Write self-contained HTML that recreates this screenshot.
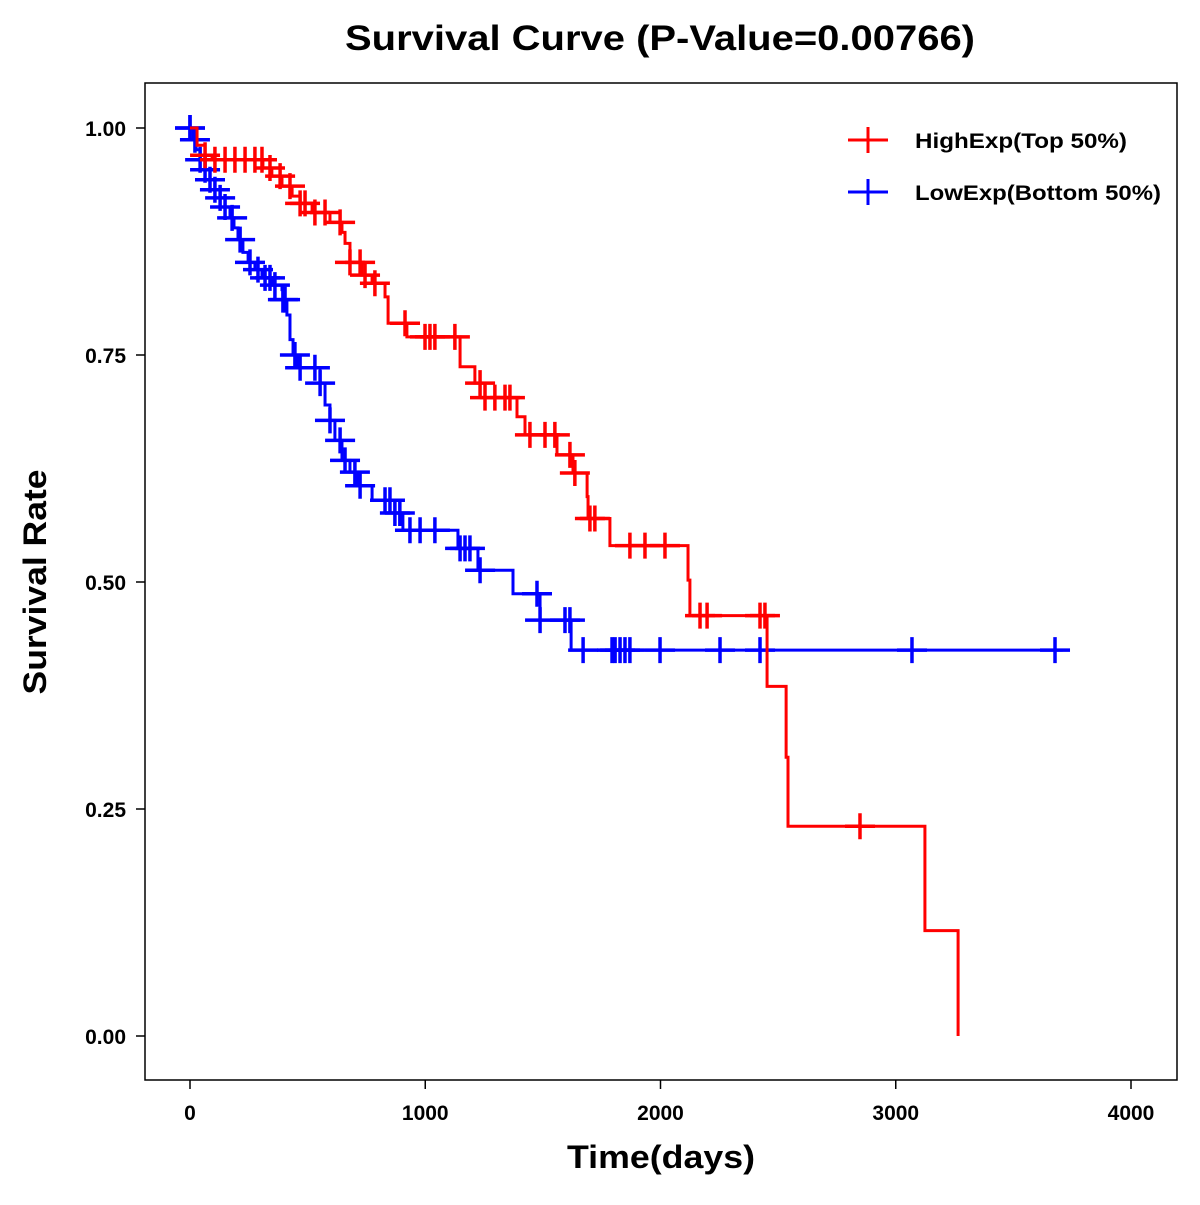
<!DOCTYPE html>
<html><head><meta charset="utf-8"><style>
body{margin:0;background:#fff}
svg text{font-family:"Liberation Sans",Arial,sans-serif;font-weight:bold}
</style></head><body>
<svg id="chart" width="1200" height="1200" viewBox="0 0 1200 1200" xmlns="http://www.w3.org/2000/svg">
<rect width="1200" height="1200" fill="#fff"/>
<text x="660" y="50" font-size="35" text-anchor="middle" textLength="630" lengthAdjust="spacingAndGlyphs">Survival Curve (P-Value=0.00766)</text>
<rect x="145" y="83" width="1032" height="997" fill="none" stroke="#000" stroke-width="1.5"/>
<g id="axes"></g>
<g id="series"></g>
<text x="661" y="1168" font-size="32" text-anchor="middle" textLength="188" lengthAdjust="spacingAndGlyphs">Time(days)</text>
<text transform="translate(46,582) rotate(-90)" font-size="32" text-anchor="middle" textLength="225" lengthAdjust="spacingAndGlyphs">Survival Rate</text>
<g>
<g>
<line x1="848" y1="140" x2="888" y2="140" stroke="#f00" stroke-width="3"/><line x1="868" y1="127" x2="868" y2="153" stroke="#f00" stroke-width="3"/>
<text x="915" y="148" font-size="21" textLength="212" lengthAdjust="spacingAndGlyphs">HighExp(Top 50%)</text></g>
<g>
<line x1="848" y1="192" x2="888" y2="192" stroke="#00f" stroke-width="3"/><line x1="868" y1="179" x2="868" y2="205" stroke="#00f" stroke-width="3"/>
<text x="915" y="200" font-size="21" textLength="246" lengthAdjust="spacingAndGlyphs">LowExp(Bottom 50%)</text></g>
</g>
</svg>
<script>
const xTicks=[0,1000,2000,3000,4000];
const yTicks=[0,0.25,0.5,0.75,1.0];
const yTickLabels=["0.00","0.25","0.50","0.75","1.00"];
const highTimes=[0,30,64,94,310,348,391,434,468,519,595,646,659,680,731,774,829,842,922,1148,1211,1254,1390,1424,1560,1628,1688,1692,1785,2117,2125,2453,2534,2542,3124,3265];
const highSurv=[1,0.981,0.970,0.965,0.956,0.947,0.936,0.925,0.917,0.907,0.896,0.885,0.873,0.852,0.838,0.829,0.814,0.785,0.770,0.737,0.719,0.703,0.682,0.662,0.640,0.620,0.594,0.570,0.540,0.502,0.463,0.385,0.307,0.231,0.116,0];
const highCensor=[64,106,149,191,234,276,306,340,383,425,468,489,531,574,638,680,723,744,786,914,999,1020,1041,1126,1233,1254,1296,1339,1360,1445,1509,1551,1615,1636,1700,1721,1870,1934,2019,2168,2198,2423,2444,2848];
const lowTimes=[0,13,26,43,64,85,106,128,149,170,187,204,225,247,276,306,349,391,395,412,425,438,455,553,574,595,616,646,680,710,774,871,905,1139,1224,1373,1488,1620];
const lowSurv=[1,0.987,0.976,0.965,0.954,0.943,0.932,0.923,0.913,0.901,0.890,0.877,0.863,0.852,0.844,0.835,0.827,0.822,0.811,0.794,0.767,0.750,0.736,0.719,0.695,0.678,0.656,0.634,0.621,0.606,0.590,0.576,0.557,0.537,0.513,0.487,0.458,0.425];
const lowCensor=[0,0,21,43,64,85,106,128,149,179,213,255,289,319,340,361,395,404,446,468,531,553,595,638,659,701,723,829,850,871,892,935,978,1041,1148,1169,1190,1233,1475,1488,1594,1615,1671,1794,1807,1828,1849,1870,1998,2253,2423,3069,3677];
const lowEnd=3710, highEnd=3265;

const NS="http://www.w3.org/2000/svg";
const X=t=>190+t*0.23525;
const Y=s=>1036-s*908;
function mk(tag,attrs,parent){const e=document.createElementNS(NS,tag);for(const k in attrs)e.setAttribute(k,attrs[k]);parent.appendChild(e);return e;}
const axes=document.getElementById('axes');
xTicks.forEach(t=>{
  const l=mk('line',{x1:X(t),x2:X(t),y1:1080,y2:1089,stroke:'#000','stroke-width':1.5},axes);
  
  
  const tx=mk('text',{x:X(t),y:1120,'font-size':21,'text-anchor':'middle'},axes);
  tx.textContent=t;
  
  
});
yTicks.forEach((s,i)=>{
  const l=mk('line',{x1:136,x2:145,y1:Y(s),y2:Y(s),stroke:'#000','stroke-width':1.5},axes);
  
  
  const tx=mk('text',{x:126,y:Y(s)+8,'font-size':21,'text-anchor':'end'},axes);
  tx.textContent=yTickLabels[i];
  
  
});
const g=document.getElementById('series');
function survAt(times,surv,t){let s=surv[0];for(let i=0;i<times.length;i++){if(times[i]<=t)s=surv[i];}return s;}
function draw(times,surv,censor,end,color,name){
  let d='M'+X(times[0])+','+Y(surv[0]);
  for(let i=1;i<times.length;i++){d+=' H'+X(times[i])+' V'+Y(surv[i]);}
  if(end>times[times.length-1])d+=' H'+X(end);
  const p=mk('path',{d:d,fill:'none',stroke:color,'stroke-width':3},g);
  
  
  censor.forEach(t=>{
    const cx=X(t),cy=Y(survAt(times,surv,t));
    const c=mk('path',{d:'M'+(cx-15)+','+cy+' H'+(cx+15)+' M'+cx+','+(cy-13)+' V'+(cy+13),stroke:color,'stroke-width':3.5,fill:'none'},g);
    
    
  });
}
draw(lowTimes,lowSurv,lowCensor,lowEnd,'#00f','low-exp');
draw(highTimes,highSurv,highCensor,highEnd,'#f00','high-exp');
</script>
</body></html>
